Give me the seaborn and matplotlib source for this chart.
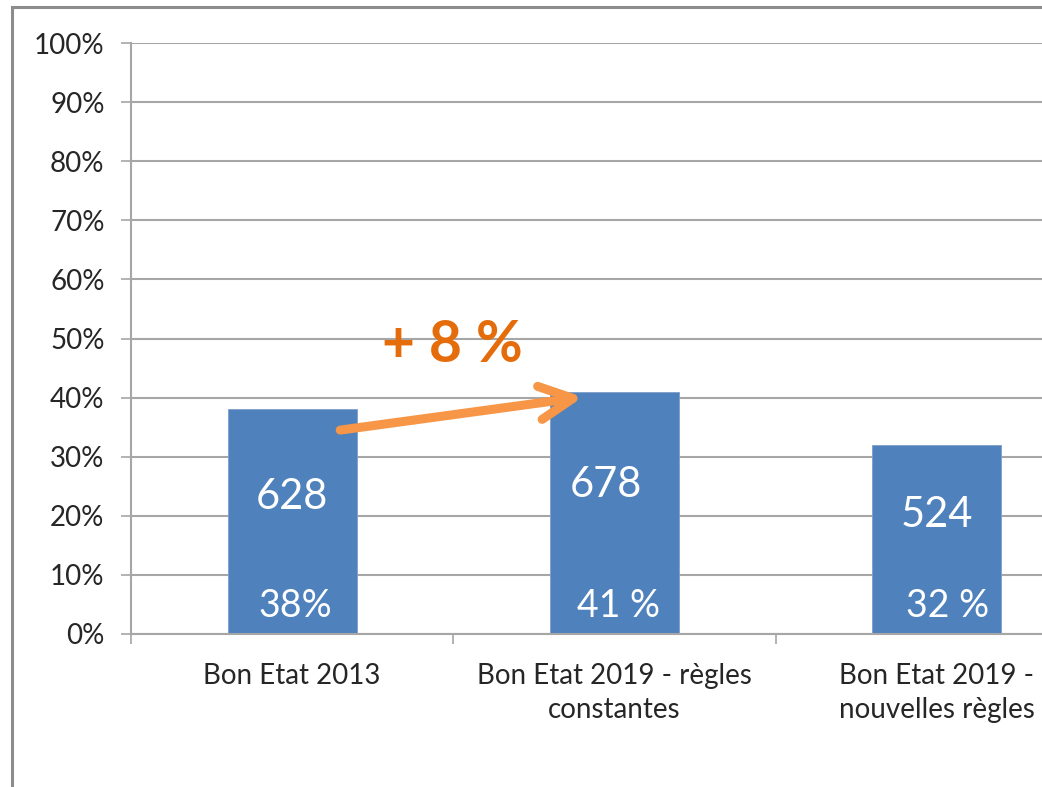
import matplotlib
matplotlib.use('Agg')
import matplotlib.pyplot as plt
from matplotlib.patches import Rectangle
from matplotlib.ticker import PercentFormatter
import seaborn as sns

# chart data
categories = ['Bon Etat 2013', 'Bon Etat 2019 - règles\nconstantes', 'Bon Etat 2019 -\nnouvelles règles']
shares = [0.38, 0.41, 0.32]
counts = ['628', '678', '524']
share_labels = ['38%', '41 %', '32 %']
growth_label = '+ 8 %'

sns.set_style('white')
plt.rcParams['font.family'] = ['Lato', 'DejaVu Sans']

grey = '#a6a6a6'
fig = plt.figure(figsize=(10.42, 7.87), dpi=100)
ax = fig.add_axes([131 / 1042, 153 / 787, 967 / 1042, 591 / 787])

sns.barplot(x=categories, y=shares, color='#4F81BD', width=0.4, saturation=1,
            edgecolor='#7f9fcb', linewidth=0.6, ax=ax, zorder=2)

ax.set_xlim(-0.5, 2.5)
ax.set_ylim(0, 1)
ax.set_yticks([i / 10 for i in range(11)])
ax.yaxis.set_major_formatter(PercentFormatter(1.0, decimals=0))
ax.yaxis.grid(True, color=grey, lw=1.5)
ax.set_axisbelow(True)

for side in ['top', 'right']:
    ax.spines[side].set_visible(False)
for side in ['left', 'bottom']:
    ax.spines[side].set_color(grey)
    ax.spines[side].set_linewidth(1.5)

ax.tick_params(axis='y', length=7, width=1.2, color=grey, pad=12, labelsize=20, labelcolor='#262626', left=True)
ax.set_xticks([-0.5, 0.5, 1.5, 2.5], minor=True)
ax.tick_params(axis='x', which='minor', length=7, width=1.2, color=grey, bottom=True)
ax.tick_params(axis='x', which='major', length=0, pad=21, labelsize=20, labelcolor='#262626')
for lbl in ax.get_xticklabels():
    lbl.set_linespacing(1.35)
ax.set_xlabel('')
ax.set_ylabel('')

# labels inside the bars
count_pos = [(0.0, 0.232), (-0.028, 0.252), (0.0, 0.201)]
share_pos = [(0.01, 0.047), (0.012, 0.047), (0.034, 0.047)]
for i in range(len(categories)):
    ax.text(i + count_pos[i][0], count_pos[i][1], counts[i], color='white',
            fontsize=30, ha='center', va='center', zorder=3)
    ax.text(i + share_pos[i][0], share_pos[i][1], share_labels[i], color='white',
            fontsize=27, ha='center', va='center', zorder=3)

# growth arrow between first two bars
ax.annotate('', xy=(0.902, 0.401), xytext=(0.149, 0.345),
            arrowprops=dict(arrowstyle='->,head_length=1.2,head_width=0.6',
                            color='#F79646', lw=6.5, mutation_scale=20,
                            shrinkA=0, shrinkB=0, capstyle='round', joinstyle='round'),
            zorder=4)
ax.text(0.496, 0.489, growth_label, color='#E46C0A', fontsize=41, fontweight='bold',
        ha='center', va='center', zorder=4)

# outer frame of the pasted chart
fig.patches.append(Rectangle((12 / 1042, -0.5), 2, 0.5 + 1 - 7 / 787,
                             transform=fig.transFigure, fill=False,
                             edgecolor='#8c8c8c', lw=2.2))

fig.savefig('out.png', dpi=100)
